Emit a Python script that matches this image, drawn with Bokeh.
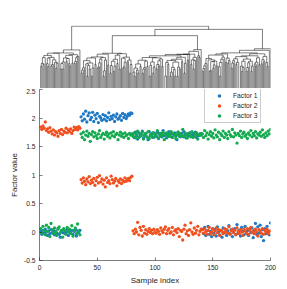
import numpy as np
from bokeh.plotting import figure
from bokeh.layouts import column
from bokeh.models import Range1d, FixedTicker, NumeralTickFormatter, Legend, LegendItem
from bokeh.embed import file_html
from bokeh.resources import INLINE

# ---------------- data ----------------
factor1 = [
    0.01, -0.04, 0.03, -0.02, 0.05, 0.00, -0.06, 0.02, -0.03, 0.04,
    -0.01, 0.03, -0.05, 0.01, -0.02, 0.06, -0.04, -0.09, 0.02, -0.01,
    0.04, -0.03, 0.00, 0.05, -0.06, 0.02, -0.02, 0.03, -0.04, 0.01,
    0.05, -0.07, 0.02, -0.01, 0.03,
    2.02, 1.95, 2.07, 1.98, 2.12, 1.93, 2.04, 2.09, 1.97, 2.01,
    2.10, 1.94, 2.05, 1.99, 2.08, 1.92, 2.03, 2.00, 1.96, 2.06,
    1.98, 2.04, 1.95, 2.01, 2.09, 1.97, 2.03, 1.99, 2.05, 1.94,
    2.02, 2.07, 1.98, 2.00, 2.04, 1.96, 2.08, 2.01, 2.06, 1.99,
    2.03, 2.07, 2.05, 2.09, 2.08,
    1.72, 1.66, 1.75, 1.69, 1.63, 1.74, 1.68, 1.71, 1.77, 1.65,
    1.70, 1.73, 1.67, 1.62, 1.76, 1.69, 1.72, 1.66, 1.74, 1.70,
    1.68, 1.75, 1.64, 1.71, 1.73, 1.67, 1.78, 1.69, 1.72, 1.65,
    1.70, 1.76, 1.68, 1.73, 1.66, 1.71, 1.74, 1.69, 1.62, 1.75,
    1.70, 1.67, 1.73, 1.68, 1.76, 1.71, 1.65, 1.72, 1.69, 1.74,
    1.67, 1.70, 1.73, 1.68, 1.75, 1.66, 1.71, 1.69, 1.72, 1.70,
    0.05, -0.03, 0.08, -0.06, 0.02, 0.10, -0.04, 0.01, -0.08, 0.06,
    -0.02, 0.04, -0.07, 0.09, 0.00, -0.05, 0.03, -0.09, 0.07, -0.01,
    0.05, -0.06, 0.02, 0.11, -0.03, 0.04, -0.08, 0.00, 0.06, -0.04,
    0.13, -0.02, 0.03, -0.07, 0.08, 0.01, -0.05, 0.10, -0.03, 0.02,
    -0.06, 0.05, -0.01, 0.07, -0.10, 0.03, 0.15, -0.04, 0.09, -0.02,
    0.12, -0.08, 0.04, -0.15, 0.06, -0.03, 0.10, 0.01, -0.05, 0.16,
]

factor2 = [
    1.84, 1.80, 1.86, 1.82, 1.93, 1.78, 1.81, 1.75, 1.83, 1.77,
    1.72, 1.79, 1.70, 1.76, 1.74, 1.68, 1.78, 1.73, 1.80, 1.71,
    1.77, 1.75, 1.82, 1.74, 1.79, 1.76, 1.81, 1.73, 1.78, 1.84,
    1.80, 1.83, 1.79, 1.85, 1.82,
    0.92, 0.86, 0.95, 0.89, 0.83, 0.93, 0.88, 0.97, 0.85, 0.91,
    0.87, 0.94, 0.82, 0.90, 0.96, 0.86, 0.99, 0.88, 0.93, 0.84,
    0.91, 0.79, 0.95, 0.87, 0.90, 0.85, 0.98, 0.92, 0.86, 0.89,
    0.94, 0.81, 0.90, 0.87, 0.93, 0.85, 0.91, 0.88, 0.95, 0.89,
    0.92, 0.94, 0.90, 0.96, 0.98,
    0.02, -0.03, 0.05, 0.00, 0.17, -0.05, 0.08, 0.03, -0.07, 0.10,
    -0.02, 0.04, -0.04, 0.01, 0.06, -0.01, 0.03, -0.03, 0.05, 0.00,
    -0.02, 0.04, 0.01, -0.04, 0.07, 0.02, -0.01, 0.05, 0.09, -0.03,
    0.03, 0.06, -0.02, 0.00, 0.08, -0.05, 0.02, 0.04, -0.01, 0.06,
    -0.08, 0.03, 0.01, -0.14, 0.05, 0.12, -0.03, 0.02, -0.06, 0.04,
    0.16, 0.00, -0.04, 0.07, -0.02, 0.03, 0.10, -0.05, 0.01, 0.05,
    0.04, -0.02, 0.06, 0.01, -0.04, 0.03, 0.08, -0.03, 0.00, 0.05,
    -0.05, 0.02, 0.07, -0.01, 0.04, -0.06, 0.03, 0.01, -0.03, 0.06,
    0.00, 0.04, -0.02, 0.09, -0.04, 0.02, 0.05, -0.01, 0.03, -0.05,
    0.07, 0.01, -0.03, 0.04, 0.00, -0.06, 0.05, 0.02, -0.02, 0.06,
    -0.04, 0.03, 0.08, -0.01, 0.01, -0.03, 0.05, 0.00, -0.07, 0.04,
    0.02, -0.02, 0.06, -0.04, 0.03, 0.00, 0.05, -0.03, 0.01, 0.02,
]

factor3 = [
    0.06, -0.02, 0.10, 0.03, -0.05, 0.12, 0.01, 0.08, -0.08, 0.15,
    0.04, -0.03, 0.07, 0.00, -0.06, 0.05, 0.09, -0.01, 0.03, -0.09,
    0.06, 0.02, -0.04, 0.08, 0.00, 0.05, -0.02, 0.11, -0.07, 0.03,
    0.07, -0.03, 0.14, 0.01, -0.05,
    1.72, 1.66, 1.75, 1.62, 1.70, 1.77, 1.68, 1.73, 1.59, 1.71,
    1.76, 1.67, 1.74, 1.69, 1.64, 1.72, 1.78, 1.66, 1.70, 1.73,
    1.63, 1.71, 1.75, 1.68, 1.72, 1.65, 1.74, 1.69, 1.76, 1.67,
    1.71, 1.73, 1.62, 1.70, 1.75, 1.68, 1.72, 1.66, 1.74, 1.69,
    1.71, 1.64, 1.73, 1.70, 1.72,
    1.68, 1.74, 1.65, 1.71, 1.77, 1.66, 1.72, 1.69, 1.75, 1.63,
    1.70, 1.73, 1.67, 1.76, 1.64, 1.71, 1.69, 1.74, 1.66, 1.72,
    1.70, 1.78, 1.65, 1.73, 1.68, 1.71, 1.75, 1.62, 1.70, 1.74,
    1.67, 1.72, 1.69, 1.76, 1.66, 1.73, 1.70, 1.64, 1.71, 1.75,
    1.68, 1.72, 1.69, 1.80, 1.67, 1.74, 1.70, 1.65, 1.73, 1.71,
    1.68, 1.76, 1.66, 1.72, 1.69, 1.74, 1.63, 1.71, 1.70, 1.73,
    1.72, 1.66, 1.78, 1.69, 1.74, 1.63, 1.71, 1.76, 1.68, 1.73,
    1.65, 1.79, 1.70, 1.67, 1.75, 1.62, 1.72, 1.69, 1.77, 1.66,
    1.73, 1.70, 1.64, 1.76, 1.71, 1.68, 1.80, 1.67, 1.74, 1.70,
    1.56, 1.73, 1.69, 1.77, 1.66, 1.72, 1.75, 1.68, 1.71, 1.64,
    1.74, 1.70, 1.78, 1.67, 1.73, 1.69, 1.76, 1.65, 1.72, 1.70,
    1.75, 1.68, 1.79, 1.71, 1.66, 1.74, 1.69, 1.77, 1.72, 1.80,
]

series_names = ["Factor 1", "Factor 2", "Factor 3"]
series_colors = ["#1f78c4", "#f0501e", "#14aa50"]
x_ticks = [0, 50, 100, 150, 200]
y_ticks = [-0.5, 0, 0.5, 1, 1.5, 2, 2.5]
x_label = "Sample index"
y_label = "Factor value"

FONT = "Liberation Sans"
TXT = "#262626"

n = len(factor1)
sample = np.arange(1, n + 1)

# ---------------- hierarchical clustering (average linkage) of the samples ----------------
X = np.column_stack([factor1, factor2, factor3]).astype(float)
D = np.sqrt(((X[:, None, :] - X[None, :, :]) ** 2).sum(-1))
np.fill_diagonal(D, np.inf)
size = np.ones(n)
cid = list(range(n))
children = {}
height = {}
for step in range(n - 1):
    k = int(np.argmin(D))
    i, j = divmod(k, n)
    h = D[i, j]
    new = n + step
    children[new] = (cid[i], cid[j])
    height[new] = h
    row = (size[i] * D[i] + size[j] * D[j]) / (size[i] + size[j])
    D[i, :] = row
    D[:, i] = row
    D[i, i] = np.inf
    D[j, :] = np.inf
    D[:, j] = np.inf
    size[i] += size[j]
    cid[i] = new
root = 2 * n - 2

minidx = {}
def get_min(node):
    if node < n:
        return node
    if node not in minidx:
        a, b = children[node]
        minidx[node] = min(get_min(a), get_min(b))
    return minidx[node]

def leaf_order(node):
    if node < n:
        return [node]
    a, b = children[node]
    if get_min(a) > get_min(b):
        a, b = b, a
    return leaf_order(a) + leaf_order(b)

order = leaf_order(root)
leaf_pos = {leaf: k + 1 for k, leaf in enumerate(order)}

pos_h = [v for v in height.values() if v > 0]
h_low = min(pos_h) * 0.25
h_top = height[root] * 1.08

xpos = {}
def get_x(node):
    if node < n:
        return leaf_pos[node]
    if node not in xpos:
        a, b = children[node]
        xpos[node] = 0.5 * (get_x(a) + get_x(b))
    return xpos[node]

def get_h(node):
    if node < n:
        return h_low
    return max(height[node], h_low)

dxs, dys = [], []
for node in range(n, 2 * n - 1):
    a, b = children[node]
    xa, xb = get_x(a), get_x(b)
    dxs.append([xa, xa, xb, xb])
    dys.append([get_h(a), get_h(node), get_h(node), get_h(b)])

# ---------------- figures ----------------
xr = Range1d(x_ticks[0], x_ticks[-1])

p1 = figure(width=287, height=88, x_range=xr, y_range=Range1d(h_low, h_top),
            y_axis_type="log", x_axis_location=None, y_axis_location=None,
            output_backend="svg", toolbar_location=None,
            min_border_left=39, min_border_right=17, min_border_top=25, min_border_bottom=0)
p1.outline_line_color = None
p1.grid.visible = False
p1.multi_line(xs=dxs, ys=dys, line_color="black", line_width=0.6, line_alpha=0.85)

p2 = figure(width=287, height=201, x_range=xr, y_range=Range1d(y_ticks[0], y_ticks[-1]),
            output_backend="svg", toolbar_location=None,
            min_border_left=39, min_border_right=17, min_border_top=1, min_border_bottom=29)
p2.outline_line_color = None
p2.grid.visible = False

renderers = []
for vals, col in zip([factor1, factor2, factor3], series_colors):
    r = p2.scatter(sample, vals, size=3.3, fill_color=col, line_color=None)
    renderers.append(r)

for ax in (p2.xaxis[0], p2.yaxis[0]):
    ax.axis_line_color = TXT
    ax.axis_line_width = 0.6
    ax.major_tick_line_color = TXT
    ax.major_tick_line_width = 0.6
    ax.major_tick_in = 3
    ax.major_tick_out = 0
    ax.minor_tick_line_color = None
    ax.major_label_text_font = FONT
    ax.major_label_text_font_size = "6.7px"
    ax.major_label_text_color = TXT
    ax.axis_label_text_font = FONT
    ax.axis_label_text_font_size = "8px"
    ax.axis_label_text_font_style = "normal"
    ax.axis_label_text_color = TXT

p2.xaxis[0].ticker = FixedTicker(ticks=x_ticks)
p2.yaxis[0].ticker = FixedTicker(ticks=y_ticks)
p2.yaxis[0].formatter = NumeralTickFormatter(format="0.[0]")
p2.xaxis[0].axis_label = x_label
p2.yaxis[0].axis_label = y_label
p2.xaxis[0].major_label_standoff = 4
p2.xaxis[0].axis_label_standoff = 3
p2.yaxis[0].major_label_standoff = 4
p2.yaxis[0].axis_label_standoff = 2

legend = Legend(items=[LegendItem(label=nm, renderers=[r]) for nm, r in zip(series_names, renderers)],
                location=(165, 137))
legend.padding = 2
legend.spacing = 1
legend.margin = 0
legend.glyph_width = 24
legend.glyph_height = 9
legend.label_height = 9
legend.label_standoff = 2
legend.label_text_font = FONT
legend.label_text_font_size = "6.7px"
legend.label_text_color = TXT
legend.border_line_color = "#9a9a9a"
legend.border_line_width = 0.8
legend.background_fill_color = "white"
legend.background_fill_alpha = 1.0
p2.add_layout(legend)

layout = column(p1, p2, spacing=0)
open("out.html", "w").write(file_html(layout, INLINE))
